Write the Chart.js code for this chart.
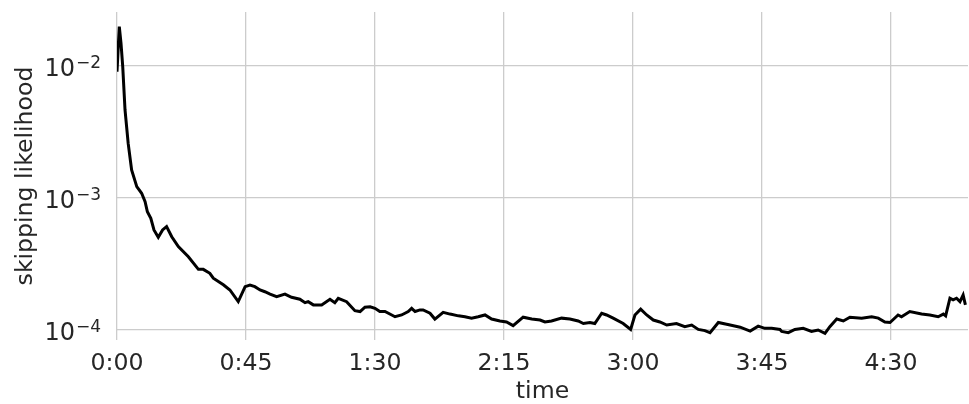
<!DOCTYPE html>
<html>
<head>
<meta charset="utf-8">
<title>skipping likelihood</title>
<script src="https://cdn.jsdelivr.net/npm/chart.js@4.4.1/dist/chart.umd.min.js"></script>
<style>
    html, body { margin: 0; padding: 0; background: #fff; }
    #wrap { width: 969px; height: 404px; position: relative; }
</style>
</head>
<body>
<div id="wrap"><canvas id="skipChart"></canvas></div>
<script>
// time in seconds
const times = [
    0, 0.8, 1.4, 2.0, 2.8, 3.9, 5.1, 6.9, 8.6, 9.8, 10.6, 11.8, 12.9, 14.4, 15.9, 17.3, 19.1, 21.4, 24.9, 28.4,
    30.1, 32.4, 33.6, 37.1, 39.4, 42.3, 44.7, 46.4, 48.1, 49.9, 51.6, 53.4, 55.7, 58.6, 60.9, 63.8, 65.6, 66.7, 68.5, 71.4,
    74.3, 76.0, 77.2, 80.1, 83.0, 84.8, 86.5, 88.3, 90.0, 91.7, 93.5, 97.0, 99.3, 101.6, 102.8, 104.0, 105.7, 106.8, 109.2, 110.9,
    113.8, 116.2, 119.1, 121.4, 123.7, 126.0, 128.4, 130.7, 133.6, 135.9, 138.2, 141.7, 144.7, 147.6, 149.3, 151.6, 155.1, 158.0, 160.9, 162.7,
    165.0, 166.7, 169.1, 170.8, 173.1, 176.6, 179.2, 180.7, 182.7, 184.8, 187.1, 189.4, 191.8, 195.2, 198.1, 200.5, 202.8, 205.1, 206.9, 209.8,
    213.9, 217.4, 220.9, 223.7, 226.0, 228.4, 231.3, 231.9, 234.2, 236.5, 239.4, 242.3, 244.6, 247.0, 248.7, 251.1, 253.4, 255.7, 259.8, 263.3,
    265.6, 267.9, 269.7, 272.5, 273.7, 276.6, 280.7, 283.6, 286.5, 288.3, 289.1, 290.6, 291.7, 292.9, 294.1, 295.2, 296.0
];
const likelihood = [
    0.00906, 0.0199, 0.01486, 0.00988, 0.00464, 0.00259, 0.00163, 0.00122, 0.001086, 0.000938, 0.000787, 0.000702, 0.000573, 0.000504, 0.000573, 0.000607, 0.000509, 0.000428, 0.000359, 0.000288,
    0.000288, 0.000269, 0.000247, 0.000220, 0.000201, 0.000164, 0.000213, 0.000219, 0.000213, 0.000201, 0.000195, 0.000187, 0.000179, 0.000187, 0.000177, 0.000171, 0.000161, 0.000164, 0.000155, 0.000155,
    0.000171, 0.000161, 0.000174, 0.000164, 0.000140, 0.000138, 0.000149, 0.000150, 0.000146, 0.000138, 0.000138, 0.000126, 0.000130, 0.000138, 0.000146, 0.000138, 0.000142, 0.000142, 0.000134, 0.000121,
    0.000136, 0.000132, 0.000128, 0.000126, 0.000123, 0.000126, 0.000130, 0.000121, 0.000117, 0.000115, 0.000108, 0.000125, 0.000121, 0.000119, 0.000115, 0.000117, 0.000123, 0.000121, 0.000117, 0.000112,
    0.000114, 0.000112, 0.000134, 0.000130, 0.000123, 0.000112, 0.000101, 0.000130, 0.000144, 0.000130, 0.000119, 0.000115, 0.000109, 0.000112, 0.000106, 0.000109, 0.000101, 0.0000989, 0.0000955, 0.000114,
    0.000109, 0.000105, 0.0000982, 0.000107, 0.000103, 0.000103, 0.000101, 0.0000976, 0.0000955, 0.000101, 0.000103, 0.0000976, 0.000100, 0.0000944, 0.000106, 0.000121, 0.000117, 0.000125, 0.000123, 0.000126,
    0.000123, 0.000115, 0.000114, 0.000130, 0.000126, 0.000138, 0.000132, 0.000130, 0.000126, 0.000132, 0.000128, 0.000174, 0.000169, 0.000174, 0.000164, 0.000184, 0.000155
];

const xTicks = [0, 45, 90, 135, 180, 225, 270];
const yTicks = [1e-4, 1e-3, 1e-2];
const yTickExponents = ["\u22124", "\u22123", "\u22122"];

const textColor = "#262626";
const gridColor = "#cccccc";
const fontFamily = "DejaVu Sans";

function formatTime(sec) {
    const m = Math.floor(sec / 60);
    const s = Math.round(sec % 60);
    return m + ":" + (s < 10 ? "0" + s : s);
}

// draws 10 with a raised exponent, like the original mathtext labels
const powerLabels = {
    id: "powerLabels",
    afterDraw: function (chart) {
        const scale = chart.scales.y;
        const c = chart.ctx;
        c.save();
        c.fillStyle = textColor;
        c.textBaseline = "alphabetic";
        c.textAlign = "left";
        const right = scale.right - 17;
        yTicks.forEach((v, i) => {
            const y = scale.getPixelForValue(v);
            c.font = "24px '" + fontFamily + "'";
            const baseW = c.measureText("10").width;
            c.font = "17px '" + fontFamily + "'";
            const expW = c.measureText(yTickExponents[i]).width;
            const x0 = right - expW - baseW;
            c.font = "24px '" + fontFamily + "'";
            c.fillText("10", x0, y + 10);
            c.font = "17px '" + fontFamily + "'";
            c.fillText(yTickExponents[i], x0 + baseW + 1, y + 2);
        });
        c.restore();
    }
};

document.addEventListener("DOMContentLoaded", function () {
    const ctx = document.getElementById("skipChart").getContext("2d");
    const points = times.map((t, i) => ({ x: t, y: likelihood[i] }));

    new Chart(ctx, {
        type: "line",
        data: {
            datasets: [{
                data: points,
                borderColor: "#000",
                borderWidth: 3,
                pointRadius: 0,
                tension: 0,
                fill: false
            }]
        },
        options: {
            responsive: true,
            maintainAspectRatio: false,
            animation: false,
            layout: { padding: { top: 12, right: 1, left: 0, bottom: 0 } },
            plugins: {
                legend: { display: false },
                tooltip: { enabled: false }
            },
            scales: {
                x: {
                    type: "linear",
                    min: 0,
                    max: 296.9,
                    border: { display: false },
                    grid: { color: gridColor, lineWidth: 1.3, drawTicks: false },
                    afterBuildTicks: function (scale) {
                        scale.ticks = xTicks.map(v => ({ value: v }));
                    },
                    afterFit: function (scale) {
                        scale.height = 64;
                        scale.paddingLeft = 0;
                        scale.paddingRight = 0;
                    },
                    ticks: {
                        color: textColor,
                        padding: 10,
                        maxRotation: 0,
                        autoSkip: false,
                        font: { family: fontFamily, size: 23.6 },
                        callback: function (value) { return formatTime(value); }
                    },
                    title: {
                        display: true,
                        text: "time",
                        color: textColor,
                        padding: { top: 0, bottom: 0 },
                        font: { family: fontFamily, size: 23.6, lineHeight: 1 }
                    }
                },
                y: {
                    type: "logarithmic",
                    min: 8.4e-5,
                    max: 0.02564,
                    border: { display: false },
                    grid: { color: gridColor, lineWidth: 1.3, drawTicks: false },
                    afterBuildTicks: function (scale) {
                        scale.ticks = yTicks.map(v => ({ value: v }));
                    },
                    afterFit: function (scale) {
                        scale.width = 117;
                        scale.paddingTop = 0;
                        scale.paddingBottom = 0;
                    },
                    ticks: { display: false },
                    title: {
                        display: true,
                        text: "skipping likelihood",
                        color: textColor,
                        padding: { top: 14, bottom: 0 },
                        font: { family: fontFamily, size: 23.6, lineHeight: 1 }
                    }
                }
            }
        },
        plugins: [powerLabels]
    });
});
</script>
</body>
</html>
